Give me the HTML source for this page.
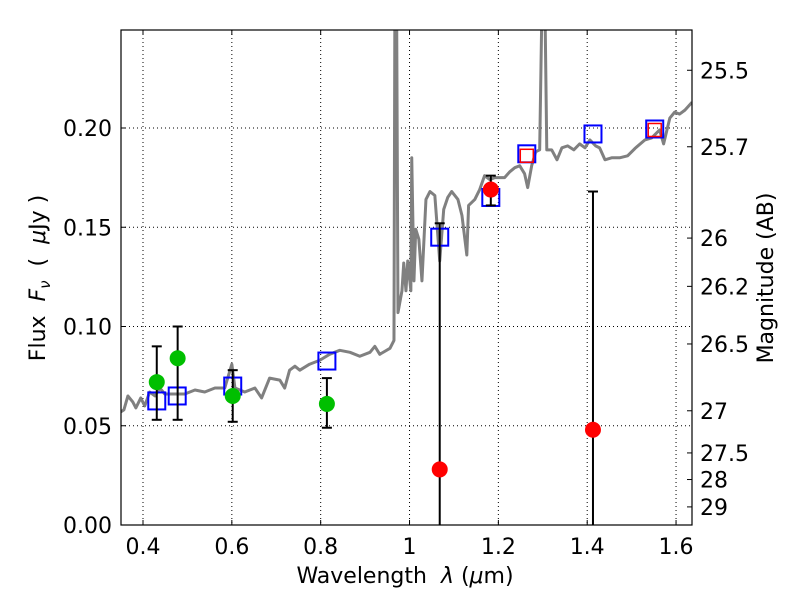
<!DOCTYPE html>
<html><head><meta charset="utf-8"><style>
body{margin:0;background:#fff;}
svg{display:block;font-family:"DejaVu Sans","Liberation Sans",sans-serif;}
</style></head><body>
<svg id="chart" width="800" height="600"></svg>
<script>
const specLam=[.350,.357,.366,.377,.384,.395,.404,.415,.427,.438,.449,.472,.494,.517,.539,.562,.584,.600,.607,.629,.652,.667,.685,.708,.719,.730,.742,.753,.775,.798,.820,.843,.866,.888,.911,.922,.933,.956,.965,.967,.971,.974,.983,.987,.992,.996,1.003,1.005,1.010,1.014,1.021,1.028,1.037,1.046,1.057,1.068,1.077,1.086,1.095,1.109,1.118,1.129,1.133,1.147,1.158,1.169,1.181,1.192,1.203,1.214,1.226,1.237,1.248,1.259,1.266,1.275,1.284,1.293,1.298,1.305,1.309,1.320,1.332,1.343,1.356,1.370,1.383,1.395,1.406,1.419,1.428,1.440,1.455,1.473,1.491,1.509,1.530,1.545,1.563,1.572,1.586,1.597,1.608,1.620,1.636];
const specFlux=[.057,.058,.065,.062,.059,.064,.060,.067,.065,.069,.066,.066,.066,.068,.067,.069,.069,.081,.069,.067,.069,.064,.074,.073,.069,.078,.080,.078,.081,.083,.086,.088,.087,.085,.087,.090,.086,.089,.093,.26,.26,.107,.118,.132,.118,.133,.118,.185,.123,.149,.144,.123,.164,.168,.166,.133,.159,.165,.168,.164,.156,.136,.161,.164,.169,.176,.174,.175,.175,.175,.178,.180,.181,.177,.170,.181,.188,.189,.26,.26,.189,.189,.184,.190,.191,.189,.192,.190,.194,.191,.190,.184,.185,.185,.186,.190,.194,.195,.199,.192,.205,.208,.207,.209,.213];
const greenLam=[.431,.478,.602,.814];
const greenFlux=[.072,.084,.065,.061];
const greenLo=[.053,.053,.052,.049];
const greenHi=[.090,.100,.078,.074];
const redLam=[1.068,1.183,1.413];
const redFlux=[.028,.169,.048];
const redLo=[-0.05,.161,-0.05];
const redHi=[.152,.176,.168];
const blueLam=[.431,.477,.602,.814,1.068,1.183,1.264,1.413,1.552];
const blueFlux=[.0625,.065,.070,.0826,.145,.165,.187,.197,.1995];
const redSqLam=[1.264,1.552];
const redSqFlux=[.186,.199];
const xTicks=[0.4,0.6,0.8,1.0,1.2,1.4,1.6];
const xTickLabels=["0.4","0.6","0.8","1","1.2","1.4","1.6"];
const yTicks=[0,0.05,0.10,0.15,0.20];
const yTickLabels=["0.00","0.05","0.10","0.15","0.20"];
const magTicks=[25.5,25.7,26,26.2,26.5,27,27.5,28,29];
const magTickLabels=["25.5","25.7","26","26.2","26.5","27","27.5","28","29"];

const L=121,R=692,T=30,B=525;
const X=l=>143+(l-0.4)*444.2;
const Y=f=>525-f*1985;
const NS="http://www.w3.org/2000/svg";
const svg=document.getElementById('chart');
function mk(tag,at,parent){const e=document.createElementNS(NS,tag);for(const k in at)e.setAttribute(k,at[k]);(parent||svg).appendChild(e);return e;}

const defs=mk('defs',{});
const cp=mk('clipPath',{id:'pc'},defs);mk('rect',{x:L,y:T,width:R-L,height:B-T},cp);

xTicks.forEach((t,i)=>{
 const g=mk('line',{x1:X(t),x2:X(t),y1:T,y2:B,stroke:'#000','stroke-width':1,'stroke-dasharray':'1,3'});
 
 
 mk('line',{x1:X(t),x2:X(t),y1:B,y2:B-5,stroke:'#000'});
 mk('line',{x1:X(t),x2:X(t),y1:T,y2:T+5,stroke:'#000'});
 const tx=mk('text',{x:X(t),y:B+29,'text-anchor':'middle','font-size':22});tx.textContent=xTickLabels[i];
 
 
});
yTicks.forEach((t,i)=>{
 if(t>0){const g=mk('line',{x1:L,x2:R,y1:Y(t),y2:Y(t),stroke:'#000','stroke-width':1,'stroke-dasharray':'1,3'});
 
 }
 mk('line',{x1:L,x2:L+5,y1:Y(t),y2:Y(t),stroke:'#000'});
 const tx=mk('text',{x:L-9,y:Y(t)+8,'text-anchor':'end','font-size':22});tx.textContent=yTickLabels[i];
 
 
});
magTicks.forEach((m,i)=>{
 const f=Math.pow(10,(23.9-m)/2.5);const y=Y(f);
 mk('line',{x1:R,x2:R-5,y1:y,y2:y,stroke:'#000'});
 const tx=mk('text',{x:R+8,y:y+8,'font-size':22});tx.textContent=magTickLabels[i];
 
 
});

const plot=mk('g',{'clip-path':'url(#pc)'});
const sp=mk('polyline',{points:specLam.map((l,i)=>X(l)+','+Y(specFlux[i])).join(' '),fill:'none',stroke:'#808080','stroke-width':3,'stroke-linejoin':'round'},plot);



function errbar(l,lo,hi){
 const x=X(l);
 mk('line',{x1:x,x2:x,y1:Y(lo),y2:Y(hi),stroke:'#000','stroke-width':2},plot);
 [lo,hi].forEach(v=>mk('line',{x1:x-5,x2:x+5,y1:Y(v),y2:Y(v),stroke:'#000','stroke-width':2},plot));
}
blueLam.forEach((l,i)=>{
 const r=mk('rect',{x:X(l)-8.5,y:Y(blueFlux[i])-8.5,width:17,height:17,fill:'none',stroke:'#0000ff','stroke-width':2},plot);
 
 
});
redSqLam.forEach((l,i)=>{
 const r=mk('rect',{x:X(l)-6.5,y:Y(redSqFlux[i])-6.5,width:13,height:13,fill:'none',stroke:'#ff0000','stroke-width':1.5},plot);
 
 
});
greenLam.forEach((l,i)=>{
 errbar(l,greenLo[i],greenHi[i]);
 const c=mk('circle',{cx:X(l),cy:Y(greenFlux[i]),r:8,fill:'#00bf00'},plot);
 
 
});
redLam.forEach((l,i)=>{
 errbar(l,redLo[i],redHi[i]);
 const c=mk('circle',{cx:X(l),cy:Y(redFlux[i]),r:8,fill:'#ff0000'},plot);
 
 
});

const fr=mk('rect',{x:L,y:T,width:R-L,height:B-T,fill:'none',stroke:'#000','stroke-width':1.2});


</script>
<svg style="position:absolute;left:0;top:0" width="800" height="600">
<text x="405" y="583" text-anchor="middle" font-size="22" font-family="DejaVu Sans,Liberation Sans,sans-serif">Wavelength&#160;&#160;<tspan font-style="italic">λ</tspan> (<tspan font-style="italic">μ</tspan>m)</text>
<text transform="translate(45,278) rotate(-90)" text-anchor="middle" font-size="22" font-family="DejaVu Sans,Liberation Sans,sans-serif">Flux&#160;&#160;<tspan font-style="italic">F</tspan><tspan font-style="italic" font-size="15" dy="5">ν</tspan><tspan dy="-5">&#160;&#160;(&#160;&#160;</tspan><tspan font-style="italic">μ</tspan>Jy )</text>
<text transform="translate(773,278) rotate(-90)" text-anchor="middle" font-size="22" font-family="DejaVu Sans,Liberation Sans,sans-serif">Magnitude (AB)</text>
</svg>
</body></html>
